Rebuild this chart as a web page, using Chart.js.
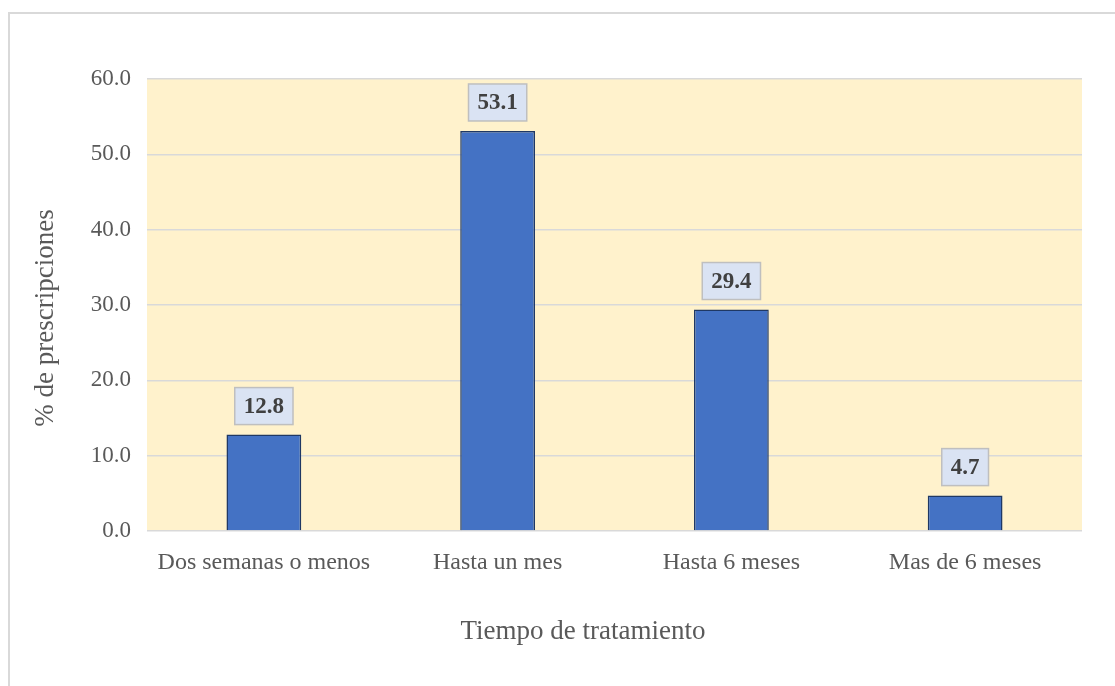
<!DOCTYPE html>
<html>
<head>
<meta charset="utf-8">
<script src="https://cdn.jsdelivr.net/npm/chart.js@4.4.1/dist/chart.umd.min.js"></script>
<style>
  html, body { margin: 0; padding: 0; overflow: hidden; background: #fff; }
  #marco {
    position: absolute; left: 8px; top: 12px;
    width: 1300px; height: 900px;
    border: 2px solid #d9d9d9;
  }
  #wrap { position: absolute; left: 0; top: 0; width: 1115px; height: 686px; }
</style>
</head>
<body>
<div id="marco"></div>
<div id="wrap"><canvas id="grafico"></canvas></div>
<script>
var categorias = ["Dos semanas o menos", "Hasta un mes", "Hasta 6 meses", "Mas de 6 meses"];
var porcentajes = [12.8, 53.1, 29.4, 4.7];
var tituloX = "Tiempo de tratamiento";
var tituloY = "% de prescripciones";

var fuente = "'Liberation Serif', 'Times New Roman', serif";

// fondo amarillo del area de trazado
var fondoPlugin = {
  id: "fondo",
  beforeDraw: function(chart) {
    var a = chart.chartArea;
    var ctx = chart.ctx;
    ctx.save();
    ctx.fillStyle = "#fff2cc";
    ctx.fillRect(a.left, a.top, a.right - a.left, a.bottom - a.top);
    ctx.restore();
  }
};

// titulos de ejes (centrados como en el original, no sobre el area)
var titulosPlugin = {
  id: "titulos",
  afterDraw: function(chart) {
    var ctx = chart.ctx;
    ctx.save();
    ctx.fillStyle = "#595959";
    ctx.font = "27px " + fuente;
    ctx.textAlign = "center";
    ctx.textBaseline = "middle";
    ctx.fillText(tituloX, 583, 632);
    ctx.translate(46, 318);
    ctx.rotate(-Math.PI / 2);
    ctx.fillText(tituloY, 0, 0);
    ctx.restore();
  }
};

// etiquetas de datos con recuadro
var etiquetasPlugin = {
  id: "etiquetas",
  afterDatasetsDraw: function(chart) {
    var ctx = chart.ctx;
    var meta = chart.getDatasetMeta(0);
    ctx.save();
    ctx.font = "bold 23px " + fuente;
    ctx.textAlign = "center";
    ctx.textBaseline = "middle";
    meta.data.forEach(function(bar, i) {
      var txt = porcentajes[i].toFixed(1);
      var w = ctx.measureText(txt).width + 18;
      var h = 37;
      var x = bar.x - w / 2;
      var y = bar.y - 10 - h;
      ctx.fillStyle = "#dae3f3";
      ctx.fillRect(x, y, w, h);
      ctx.lineWidth = 1.5;
      ctx.strokeStyle = "#bfbfbf";
      ctx.strokeRect(x, y, w, h);
      ctx.fillStyle = "#404040";
      ctx.fillText(txt, bar.x, y + h / 2 + 1);
    });
    ctx.restore();
  }
};

var ctx = document.getElementById("grafico").getContext("2d");
var chart = new Chart(ctx, {
  type: "bar",
  data: {
    labels: categorias,
    datasets: [{
      data: porcentajes,
      backgroundColor: "#4472c4",
      borderColor: "#1f3864",
      borderWidth: 1.5,
      categoryPercentage: 1.0,
      barPercentage: 0.32
    }]
  },
  options: {
    responsive: true,
    maintainAspectRatio: false,
    animation: false,
    layout: { padding: { top: 79, right: 33, left: 0, bottom: 0 } },
    plugins: {
      legend: { display: false },
      tooltip: { enabled: false }
    },
    scales: {
      x: {
        grid: { display: false, drawTicks: false },
        border: { display: false },
        ticks: {
          color: "#595959",
          font: { family: fuente, size: 24 },
          padding: 17,
          maxRotation: 0
        },
        afterFit: function(scale) { scale.height = 155; }
      },
      y: {
        min: 0,
        max: 60,
        grid: { color: "#d9d9d9", lineWidth: 1.5, drawTicks: false },
        border: { display: false },
        ticks: {
          stepSize: 10,
          color: "#595959",
          font: { family: fuente, size: 23 },
          padding: 16,
          callback: function(v) { return v.toFixed(1); }
        },
        afterFit: function(scale) { scale.width = 147; }
      }
    }
  },
  plugins: [fondoPlugin, etiquetasPlugin, titulosPlugin]
});
</script>
</body>
</html>
